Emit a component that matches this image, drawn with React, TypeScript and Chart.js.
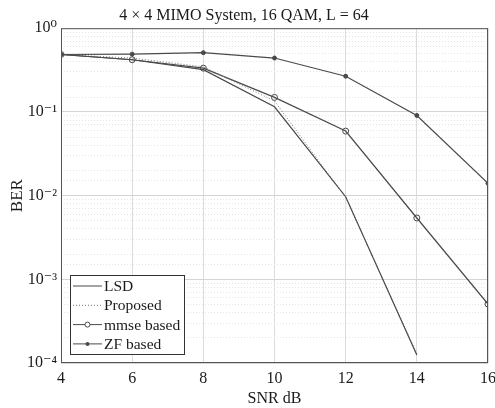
import React, { useEffect, useRef } from "react";
import { Chart, registerables } from "chart.js";

Chart.register(...registerables);

const snr = [4, 6, 8, 10, 12, 14, 16];
const lsd = [0.485, 0.42, 0.32, 0.115, 0.0097, 0.000125];
const proposed = [0.485, 0.44, 0.345, 0.135, 0.0095, 0.00013];
const mmse = [0.485, 0.42, 0.333, 0.149, 0.059, 0.0054, 0.000506];
const zf = [0.485, 0.49, 0.51, 0.44, 0.267, 0.0906, 0.014];
const legendLabels = ["LSD", "Proposed", "mmse based", "ZF based"];
const titleText = "4 \u00d7 4 MIMO System, 16 QAM, L = 64";
const supers: Record<string, string> = { "0": "\u2070", "1": "\u00b9", "2": "\u00b2", "3": "\u00b3", "4": "\u2074", "-": "\u207b" };

const FONT = "'Liberation Serif', 'DejaVu Serif', serif";
const LINE = "#4a4a4a";

const isDecade = (v: number) => Math.abs(Math.log10(v) - Math.round(Math.log10(v))) < 1e-6;

const boxPlugin = {
  id: "boxLegend",
  afterDraw(chart: any) {
    const { ctx, chartArea } = chart;
    ctx.save();
    ctx.strokeStyle = "#555";
    ctx.lineWidth = 1;
    ctx.strokeRect(chartArea.left + 0.5, chartArea.top + 0.5, chartArea.right - chartArea.left - 1, chartArea.bottom - chartArea.top - 1);
    // legend
    const lx = chartArea.left + 9;
    const ly = chartArea.bottom - 88;
    const lw = 114;
    const lh = 79;
    ctx.fillStyle = "#fff";
    ctx.fillRect(lx, ly, lw, lh);
    ctx.strokeStyle = "#333";
    ctx.strokeRect(lx + 0.5, ly + 0.5, lw, lh);
    ctx.font = "15.5px " + FONT;
    ctx.textBaseline = "middle";
    const styles = [
      { dash: [], marker: null },
      { dash: [1, 2], marker: null },
      { dash: [], marker: "circle" },
      { dash: [], marker: "dot" },
    ];
    legendLabels.forEach((lab, i) => {
      const y = ly + 11 + i * 19.3;
      const x0 = lx + 3;
      const x1 = lx + 32;
      ctx.setLineDash(styles[i].dash);
      ctx.strokeStyle = i === 1 ? "#777" : LINE;
      ctx.beginPath();
      ctx.moveTo(x0, y);
      ctx.lineTo(x1, y);
      ctx.stroke();
      ctx.setLineDash([]);
      if (styles[i].marker === "circle") {
        ctx.beginPath();
        ctx.arc((x0 + x1) / 2, y, 2.5, 0, Math.PI * 2);
        ctx.fillStyle = "#fff";
        ctx.fill();
        ctx.strokeStyle = LINE;
        ctx.stroke();
      } else if (styles[i].marker === "dot") {
        ctx.beginPath();
        ctx.arc((x0 + x1) / 2, y, 2, 0, Math.PI * 2);
        ctx.fillStyle = LINE;
        ctx.fill();
      }
      ctx.fillStyle = "#1a1a1a";
      ctx.textAlign = "left";
      ctx.fillText(lab, x1 + 2, y + 1);
    });
    ctx.restore();
  },
};

export default function App() {
  const ref = useRef<HTMLCanvasElement>(null);
  useEffect(() => {
    if (!ref.current) return;
    const chart = new Chart(ref.current, {
      type: "line",
      data: {
        labels: snr,
        datasets: [
          { label: legendLabels[0], data: lsd.map((v, i) => ({ x: snr[i], y: v })), borderColor: LINE, borderWidth: 1.2, pointRadius: 0, fill: false },
          { label: legendLabels[1], data: proposed.map((v, i) => ({ x: snr[i], y: v })), borderColor: "#777", borderWidth: 1, borderDash: [1, 2], pointRadius: 0, fill: false },
          { label: legendLabels[2], data: mmse.map((v, i) => ({ x: snr[i], y: v })), borderColor: LINE, borderWidth: 1.2, pointRadius: 3, pointStyle: "circle", pointBackgroundColor: "rgba(255,255,255,0)", pointBorderColor: LINE, pointBorderWidth: 1, fill: false },
          { label: legendLabels[3], data: zf.map((v, i) => ({ x: snr[i], y: v })), borderColor: LINE, borderWidth: 1.2, pointRadius: 2, pointStyle: "circle", pointBackgroundColor: LINE, pointBorderColor: LINE, pointBorderWidth: 1, fill: false },
        ],
      },
      options: {
        responsive: false,
        animation: false,
        layout: { padding: { left: 0, right: 7, top: 0, bottom: 0 } },
        plugins: {
          legend: { display: false },
          tooltip: { enabled: false },
          title: { display: true, text: titleText, color: "#1a1a1a", font: { family: FONT, size: 16, weight: "normal" }, padding: { top: 6, bottom: 3 } },
        },
        scales: {
          x: {
            type: "linear",
            min: 4,
            max: 16,
            ticks: { stepSize: 2, color: "#1a1a1a", font: { family: FONT, size: 16 }, padding: 6 },
            grid: { color: "#dcdcdc", drawTicks: false },
            border: { display: false },
            title: { display: true, text: "SNR dB", color: "#1a1a1a", font: { family: FONT, size: 16 }, padding: { top: 0, bottom: 0 } },
            afterFit: (s: any) => { s.height = 45; s.paddingRight = 0; s.paddingLeft = 0; },
          },
          y: {
            type: "logarithmic",
            min: 1e-4,
            max: 1,
            ticks: {
              autoSkip: false,
              color: "#1a1a1a",
              font: { family: FONT, size: 16 },
              padding: 4,
              callback: (v: any) => {
                const n = Number(v);
                if (!isDecade(n)) return "";
                const e = String(Math.round(Math.log10(n)));
                return "10" + e.split("").map((c) => supers[c]).join("");
              },
            },
            grid: {
              drawTicks: false,
              color: (c: any) => (c.tick && isDecade(c.tick.value) ? "#d4d4d4" : "#e4e4e4"),
            },
            border: {
              display: false,
              dash: (c: any) => (c.tick && isDecade(c.tick.value) ? [] : [1, 2]),
            },
            title: { display: true, text: "BER", color: "#1a1a1a", font: { family: FONT, size: 17 }, padding: { top: 7, bottom: 2 } },
            afterFit: (s: any) => { s.width = 61; s.paddingTop = 0; s.paddingBottom = 0; },
          },
        },
      },
      plugins: [boxPlugin],
    } as any);
    return () => chart.destroy();
  }, []);
  return (
    <div style={{ position: "fixed", left: 0, top: 0, width: 495, height: 408, background: "#fff" }}>
      <canvas ref={ref} width={495} height={408} />
    </div>
  );
}
